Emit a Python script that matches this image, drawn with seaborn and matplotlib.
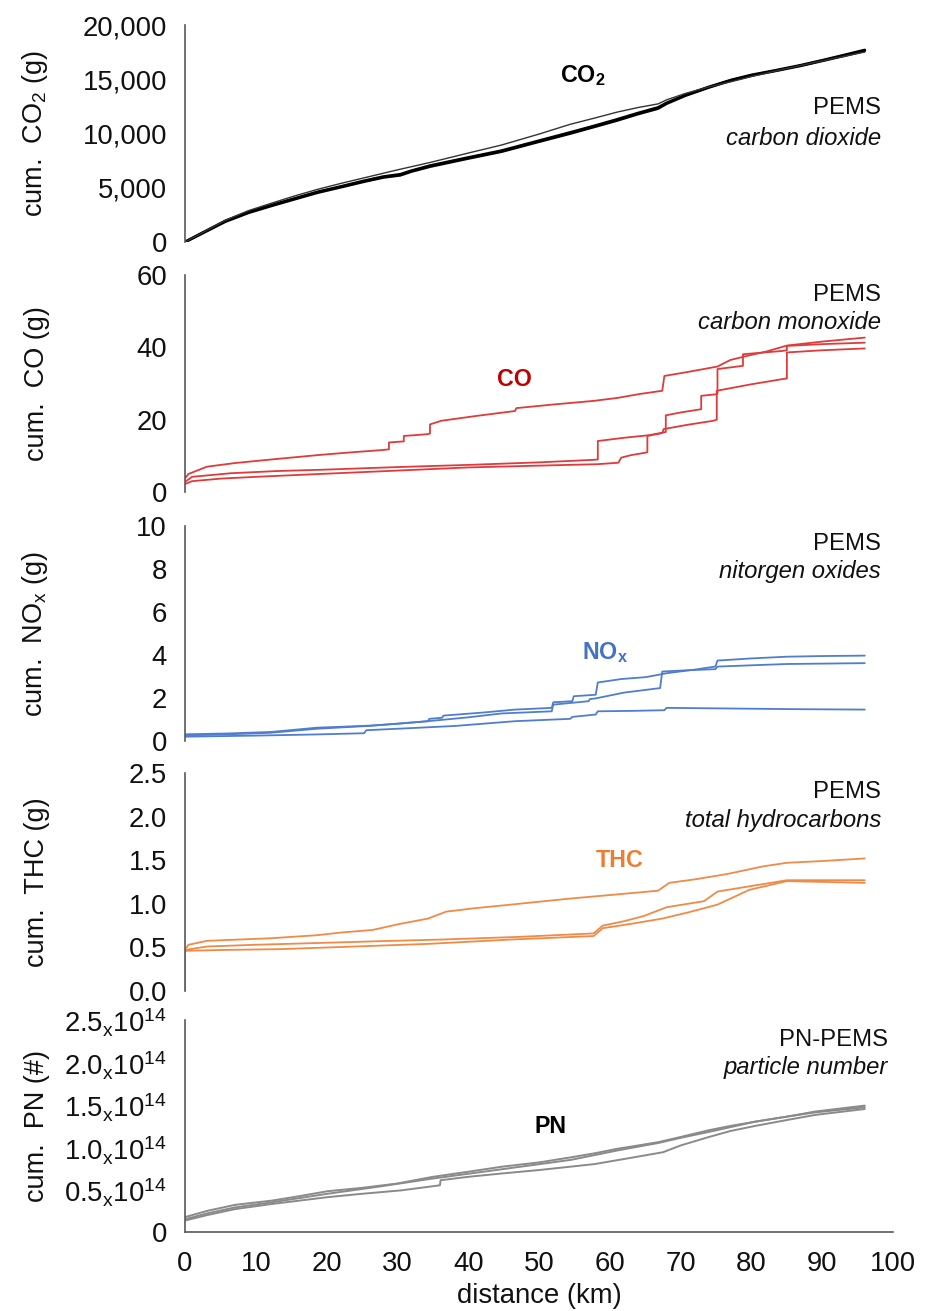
import matplotlib
matplotlib.use("Agg")
import matplotlib.pyplot as plt
from matplotlib import font_manager
from matplotlib.ticker import FixedLocator, FixedFormatter, StrMethodFormatter
import seaborn as sns
import pandas as pd

# ---------------- data ----------------
distance_ticks = [0, 10, 20, 30, 40, 50, 60, 70, 80, 90, 100]

co2_a_km = [0, 2, 5.7, 9, 12.2, 15.5, 18.7, 22, 25.2, 28, 30.4, 32, 34.6, 40, 44.7, 50, 54.4, 58, 61,
            64, 66.8, 68, 70.7, 74, 77.2, 80, 83.6, 87, 90.2, 93, 96]
co2_a_g = [0, 650, 1880, 2700, 3330, 3950, 4545, 5050, 5550, 5950, 6150, 6500, 6950, 7700, 8330, 9250,
           10000, 10650, 11200, 11800, 12300, 12750, 13500, 14250, 14900, 15350, 15800, 16250, 16730,
           17150, 17630]
co2_b_km = [0, 2, 5.7, 9, 12.2, 15.5, 18.7, 22, 25.2, 28, 30.4, 32, 34.6, 40, 44.7, 50, 54.4, 58, 61,
            64, 66.8, 68, 70.7, 74, 77.2, 80, 83.6, 87, 90.2, 93, 96]
co2_b_g = [0, 700, 1950, 2780, 3400, 4020, 4620, 5120, 5630, 6030, 6240, 6580, 7040, 7790, 8420, 9340,
           10100, 10740, 11300, 11890, 12400, 12820, 13560, 14300, 14950, 15400, 15850, 16300, 16780,
           17220, 17700]
co2_c_km = [0, 2, 5.7, 9, 12.2, 15.5, 18.7, 22, 25.2, 30, 34.6, 40, 44.7, 50, 54.4, 58, 61, 64, 66.8,
            68, 70.7, 74, 77.2, 80, 83.6, 90, 96]
co2_c_g = [0, 700, 2000, 2900, 3575, 4250, 4850, 5400, 5900, 6650, 7330, 8200, 8940, 9950, 10850, 11450,
           11970, 12400, 12730, 13100, 13700, 14300, 14790, 15250, 15800, 16700, 17510]

co_a_km = [0, 0.5, 3.1, 7, 12.2, 18.7, 23, 27.8, 28.8, 28.8, 30.9, 30.9, 34.3, 34.6, 34.6, 36.2, 41,
           46.6, 46.8, 52, 57.7, 61, 64.2, 67.4, 67.7, 71, 75.2, 77, 79.7, 82, 85, 90, 96]
co_a_g = [3.8, 5.0, 7.0, 8.0, 9.0, 10.2, 10.9, 11.6, 11.8, 13.7, 14.0, 15.5, 16.0, 16.2, 18.7, 19.7, 21.0,
          22.4, 23.2, 24.2, 25.2, 26.0, 27.1, 28.0, 32.1, 33.2, 34.7, 36.5, 37.8, 38.8, 40.5, 41.6, 42.7]
co_b_km = [0, 1, 6.5, 13, 20, 30, 40, 50, 57.7, 58.3, 58.3, 62, 65.5, 67.4, 67.9, 67.9, 70, 72.9, 72.9,
           74.9, 75.2, 75.2, 78.8, 78.8, 84.3, 85, 85, 90, 96]
co_b_g = [2.8, 4.2, 5.2, 5.8, 6.2, 6.9, 7.5, 8.2, 8.9, 9.0, 14.1, 15.0, 15.7, 16.4, 16.6, 21.2, 22.0, 22.9,
          26.6, 27.0, 27.2, 34.0, 34.9, 38.1, 39.0, 39.2, 40.4, 40.9, 41.3]
co_c_km = [0, 1, 5, 10, 18, 25, 32, 40, 50, 58.3, 61.2, 61.6, 63, 65.1, 65.3, 65.3, 67.4, 67.6, 71,
           74.6, 75.1, 75.1, 80, 84.3, 85, 85, 90, 96]
co_c_g = [2.2, 3.0, 3.7, 4.2, 4.9, 5.5, 6.1, 6.8, 7.3, 7.7, 8.1, 9.5, 10.2, 10.9, 11.0, 15.5, 16.3, 17.4,
          18.6, 19.7, 20.0, 28.0, 29.8, 31.2, 31.4, 38.6, 39.2, 39.7]

nox_a_km = [0, 6, 12.2, 18.7, 22, 26.5, 30, 34.3, 34.5, 36.3, 36.5, 42, 46.6, 51.8, 52.0, 54.7, 54.9,
            58.0, 58.3, 61.6, 65.1, 68.0, 72, 74.9, 75.2, 80, 85, 90, 96]
nox_a_g = [0.31, 0.35, 0.42, 0.62, 0.66, 0.72, 0.80, 0.92, 1.03, 1.08, 1.18, 1.32, 1.46, 1.54, 1.80,
           1.85, 2.08, 2.15, 2.72, 2.88, 2.97, 3.15, 3.32, 3.46, 3.74, 3.84, 3.92, 3.95, 3.97]
nox_b_km = [0, 6, 12, 18.7, 26, 34.3, 40, 44.7, 51.8, 52.0, 57.0, 57.2, 58.0, 62, 67.1, 67.4, 71, 74.9,
            75.2, 80, 85, 96]
nox_b_g = [0.26, 0.31, 0.38, 0.57, 0.70, 0.92, 1.10, 1.28, 1.38, 1.69, 1.85, 1.95, 1.98, 2.25, 2.46,
           3.23, 3.29, 3.34, 3.46, 3.52, 3.58, 3.62]
nox_c_km = [0, 10, 18, 25.3, 25.6, 32, 38.2, 42, 46.6, 54.4, 54.7, 58.0, 58.3, 63, 67.7, 68.0, 77.2,
            86, 96]
nox_c_g = [0.2, 0.25, 0.3, 0.36, 0.50, 0.60, 0.70, 0.80, 0.92, 1.03, 1.12, 1.23, 1.38, 1.40, 1.43,
           1.54, 1.51, 1.48, 1.46]

thc_a_km = [0, 0, 0.5, 3.1, 12.2, 18.7, 22, 26.5, 30.4, 34.3, 36.9, 41, 46, 54.4, 60, 66.8, 68.4, 72,
            76.5, 81.7, 85, 90, 96]
thc_a_g = [0, 0.48, 0.53, 0.575, 0.605, 0.64, 0.67, 0.70, 0.77, 0.83, 0.91, 0.95, 0.99, 1.06, 1.10, 1.15,
           1.24, 1.28, 1.34, 1.43, 1.47, 1.49, 1.52]
thc_b_km = [0, 0, 3.1, 10, 18.7, 27, 36.3, 47, 57.7, 59, 62, 64.8, 68, 73.3, 75.2, 79.7, 85, 96]
thc_b_g = [0, 0.47, 0.51, 0.53, 0.55, 0.57, 0.59, 0.62, 0.66, 0.75, 0.80, 0.86, 0.96, 1.03, 1.14, 1.20,
           1.27, 1.27]
thc_c_km = [0, 0, 5, 13.5, 24, 34.3, 46, 57.7, 59, 63, 67.4, 71, 75.2, 79.7, 85, 96]
thc_c_g = [0, 0.46, 0.47, 0.48, 0.51, 0.54, 0.59, 0.63, 0.72, 0.77, 0.83, 0.90, 0.99, 1.16, 1.26, 1.24]

pn_a_km = [0, 3.2, 7.1, 12.3, 16, 20.1, 25, 29.9, 35, 40, 44.8, 50, 54.5, 58, 61, 64, 66.9, 70, 74,
           77, 80.5, 85, 89, 92, 96]
pn_a_e14 = [0.175, 0.25, 0.32, 0.37, 0.42, 0.48, 0.52, 0.57, 0.65, 0.71, 0.77, 0.82, 0.88, 0.93, 0.98,
            1.02, 1.06, 1.12, 1.20, 1.25, 1.30, 1.36, 1.42, 1.45, 1.49]
pn_b_km = [0, 3.2, 7.1, 12.3, 20.1, 27, 35, 44.8, 54.5, 61, 66.9, 70, 74, 80.5, 85, 89, 96]
pn_b_e14 = [0.15, 0.22, 0.29, 0.35, 0.45, 0.53, 0.63, 0.74, 0.85, 0.96, 1.05, 1.11, 1.18, 1.30, 1.36,
            1.41, 1.47]
pn_c_km = [0, 3.2, 7.1, 12.3, 20.1, 25, 30.5, 36, 36.1, 40, 44.8, 50, 57.8, 62, 67.5, 70, 74, 77,
           80.5, 85, 89, 96]
pn_c_e14 = [0.135, 0.20, 0.27, 0.33, 0.41, 0.45, 0.49, 0.55, 0.61, 0.65, 0.69, 0.73, 0.80, 0.86, 0.94,
            1.02, 1.12, 1.19, 1.25, 1.32, 1.38, 1.45]

co2_ticks = [0, 5000, 10000, 15000, 20000]
co_ticks = [0, 20, 40, 60]
nox_ticks = [0, 2, 4, 6, 8, 10]
thc_ticks = [0.0, 0.5, 1.0, 1.5, 2.0, 2.5]
pn_ticks = [0, 0.5e14, 1.0e14, 1.5e14, 2.0e14, 2.5e14]
pn_tick_labels = ["0"] + [r"%s$_{\mathregular{x}}$10$^{\mathregular{14}}$" % m
                          for m in ["0.5", "1.0", "1.5", "2.0", "2.5"]]

# ---------------- style ----------------
sns.set_theme(style="white")
names = {f.name for f in font_manager.fontManager.ttflist}
narrow = "Liberation Sans Narrow" if "Liberation Sans Narrow" in names else None
base_font = narrow if narrow else "Liberation Sans"
scale = 1.0 if narrow else 0.88
plt.rcParams["font.family"] = [base_font, "DejaVu Sans"]
plt.rcParams["mathtext.fontset"] = "custom"
plt.rcParams["mathtext.rm"] = base_font
plt.rcParams["mathtext.it"] = base_font + ":italic"
plt.rcParams["mathtext.bf"] = base_font + ":bold"

TICK_FS = 22.5 * scale
ANN_FS = 19.5 * scale
LAB_FS = 19 * scale
YLAB_FS = 19.5
SPINE = "#595959"

fig = plt.figure(figsize=(9.25, 13.11), dpi=100)
L, W = 0.2, 0.7655
rects = [(0.8154, 0.1655), (0.6247, 0.1655), (0.4348, 0.1640), (0.2441, 0.1663), (0.0603, 0.1617)]
axes = [fig.add_axes([L, b, W, h]) for b, h in rects]


def draw(ax, series, color, lw):
    rows = []
    for i, (xs, ys) in enumerate(series):
        for x, y in zip(xs, ys):
            rows.append({"km": x, "val": y, "run": f"r{i}"})
    df = pd.DataFrame(rows)
    sns.lineplot(data=df, x="km", y="val", hue="run", units="run", estimator=None, sort=False,
                 palette=[color] * len(series), linewidth=lw, legend=False, ax=ax)


draw(axes[0], [(co2_a_km, co2_a_g), (co2_b_km, co2_b_g)], "black", 2.0)
draw(axes[0], [(co2_c_km, co2_c_g)], "#333333", 1.0)
draw(axes[1], [(co_a_km, co_a_g), (co_b_km, co_b_g), (co_c_km, co_c_g)], "#E03A3A", 1.3)
draw(axes[2], [(nox_a_km, nox_a_g), (nox_b_km, nox_b_g), (nox_c_km, nox_c_g)], "#4F7DCF", 1.3)
draw(axes[3], [(thc_a_km, thc_a_g), (thc_b_km, thc_b_g), (thc_c_km, thc_c_g)], "#F08A46", 1.3)
pn_series = [(pn_a_km, [v * 1e14 for v in pn_a_e14]), (pn_b_km, [v * 1e14 for v in pn_b_e14]),
             (pn_c_km, [v * 1e14 for v in pn_c_e14])]
draw(axes[4], pn_series, "#8A8A8A", 1.4)

ylabels = [r"cum.  CO$_2$ (g)", "cum.  CO (g)", r"cum.  NO$_\mathregular{x}$ (g)", "cum.  THC (g)",
           "cum.  PN (#)"]
ylims = [(0, 20000), (0, 60), (0, 10), (0, 2.5), (0, 2.5e14)]
yticks = [co2_ticks, co_ticks, nox_ticks, thc_ticks, pn_ticks]
ann = [("PEMS", "carbon dioxide", 0.617, 0.479, 0.983),
       ("PEMS", "carbon monoxide", 0.908, 0.779, 0.983),
       ("PEMS", "nitorgen oxides", 0.916, 0.786, 0.983),
       ("PEMS", "total hydrocarbons", 0.913, 0.784, 0.983),
       ("PN-PEMS", "particle number", 0.906, 0.774, 0.993)]
tags = [(r"CO$_{\mathbf{2}}$", 56.2, 15300, "black"),
        ("CO", 46.5, 31.0, "#C00000"),
        (r"NO$_{\mathbf{x}}$", 59.3, 4.1, "#4472C4"),
        ("THC", 61.4, 1.5, "#ED7D31"),
        ("PN", 51.6, 1.24e14, "black")]

for i, ax in enumerate(axes):
    ax.set_xlim(0, 100)
    ax.set_ylim(*ylims[i])
    ax.yaxis.set_major_locator(FixedLocator(yticks[i]))
    for s in ["top", "right"]:
        ax.spines[s].set_visible(False)
    ax.spines["left"].set_color(SPINE)
    ax.spines["left"].set_linewidth(1.2)
    ax.tick_params(axis="y", direction="in", length=8, width=1.2, color=SPINE,
                   labelsize=TICK_FS, pad=13, labelcolor="#111111")
    ax.set_ylabel(ylabels[i], fontsize=YLAB_FS, family=["Liberation Sans", "DejaVu Sans"], color="#111111")
    ax.yaxis.set_label_coords(-0.19, 0.5)
    t1, t2, y1, y2, xr = ann[i]
    ax.text(xr, y1, t1, transform=ax.transAxes, ha="right", va="center", fontsize=ANN_FS, color="#111111")
    ax.text(xr, y2, t2, transform=ax.transAxes, ha="right", va="center", fontsize=ANN_FS,
            style="italic", color="#111111")
    txt, tx, ty, tc = tags[i]
    ax.text(tx, ty, txt, ha="center", va="center", fontsize=LAB_FS, fontweight="bold", color=tc)
    if i < 4:
        ax.spines["bottom"].set_visible(False)
        ax.set_xticks([])
        ax.set_xlabel("")
    else:
        ax.spines["bottom"].set_color(SPINE)
        ax.spines["bottom"].set_linewidth(1.2)
        ax.xaxis.set_major_locator(FixedLocator(distance_ticks))
        ax.tick_params(axis="x", direction="in", length=10, width=1.2, color=SPINE,
                       labelsize=TICK_FS, pad=14, labelcolor="#111111")
        ax.set_xlabel("distance (km)", fontsize=TICK_FS, color="#111111", labelpad=4)

axes[0].yaxis.set_major_formatter(StrMethodFormatter("{x:,.0f}"))
axes[3].yaxis.set_major_formatter(StrMethodFormatter("{x:.1f}"))
axes[4].yaxis.set_major_formatter(FixedFormatter(pn_tick_labels))

fig.savefig("out.png", dpi=100, facecolor="white")
